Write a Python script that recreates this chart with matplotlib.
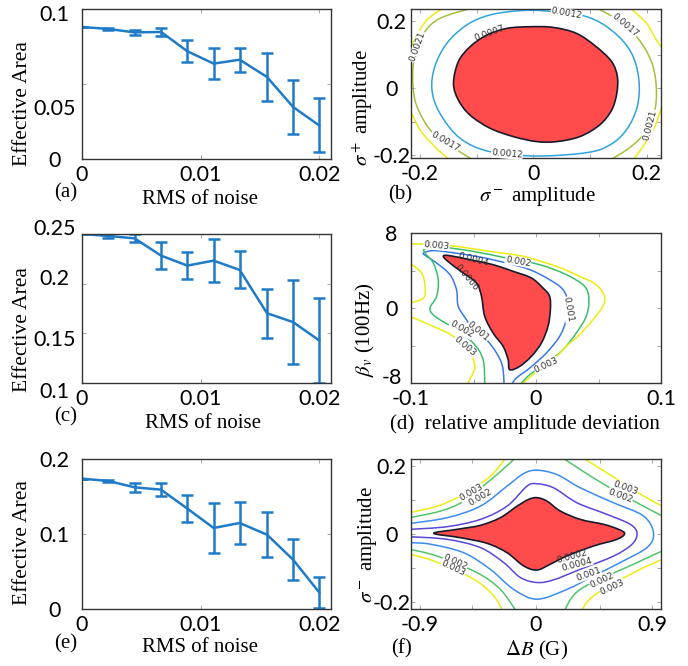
import numpy as np
import matplotlib.pyplot as plt
from matplotlib.path import Path
from matplotlib.patches import PathPatch
from matplotlib.transforms import ScaledTranslation

plt.rcParams['mathtext.fontset'] = 'stix'
W, H = 688, 666

# ---- error bar data, panels (a) (c) (e)
rms = [0, 0.00222, 0.00444, 0.00667, 0.00889, 0.0111, 0.0133, 0.0156, 0.0178, 0.02]
area_a = [0.0880, 0.0867, 0.0844, 0.0847, 0.0718, 0.0636, 0.0662, 0.0547, 0.0347, 0.0224]
err_a = [0, 0.0005, 0.0017, 0.0024, 0.0074, 0.0103, 0.0080, 0.0161, 0.0180, 0.0180]
area_c = [0.2500, 0.2480, 0.2456, 0.2282, 0.2182, 0.2232, 0.2138, 0.1703, 0.1613, 0.1429]
err_c = [0, 0.0017, 0.0040, 0.0137, 0.0140, 0.0213, 0.0186, 0.0248, 0.0424, 0.0430]
area_e = [0.1738, 0.1707, 0.1622, 0.1591, 0.1338, 0.1080, 0.1147, 0.0991, 0.0658, 0.0222]
err_e = [0, 0.0018, 0.0058, 0.0087, 0.0184, 0.0329, 0.0276, 0.0300, 0.0271, 0.0207]

# ---- contour traces, panel (b)
b_red = [(-0.141, 0.014), (-0.1325, 0.0786), (-0.112, 0.123), (-0.0825, 0.158), (-0.0473, 0.178),
         (-0.0062, 0.183), (0.0349, 0.181), (0.0761, 0.163), (0.111, 0.123), (0.138, 0.0786),
         (0.148, 0.0338), (0.147, -0.016), (0.138, -0.0657), (0.117, -0.110), (0.082, -0.145),
         (0.041, -0.160), (0.0056, -0.160), (-0.0356, -0.145), (-0.0767, -0.120), (-0.112, -0.0806),
         (-0.1325, -0.0358)]
b_blue = [(-0.179, -0.006), (-0.174, 0.064), (-0.153, 0.133), (-0.118, 0.188), (-0.077, 0.218),
          (-0.024, 0.231), (0.023, 0.230), (0.094, 0.213), (0.141, 0.168), (0.173, 0.104),
          (0.186, 0.024), (0.183, -0.056), (0.164, -0.125), (0.135, -0.170), (0.094, -0.193),
          (0.0056, -0.203), (-0.077, -0.190), (-0.1295, -0.150), (-0.165, -0.0756)]
b_olive_l = [(-0.106, 0.24), (-0.165, 0.208), (-0.194, 0.163), (-0.209, 0.104), (-0.213, 0.034),
             (-0.209, -0.036), (-0.194, -0.0955), (-0.171, -0.145), (-0.135, -0.185), (-0.106, -0.215)]
b_olive_r = [(0.111, 0.24), (0.158, 0.193), (0.191, 0.133), (0.211, 0.064), (0.217, -0.016),
             (0.211, -0.0856), (0.191, -0.145), (0.164, -0.185), (0.135, -0.215)]
b_yellow = [
    [(-0.159, 0.24), (-0.188, 0.203), (-0.207, 0.153), (-0.22, 0.104)],
    [(-0.22, -0.056), (-0.200, -0.125), (-0.171, -0.180), (-0.147, -0.215)],
    [(0.170, 0.24), (0.1995, 0.193), (0.217, 0.143), (0.23, 0.113)],
    [(0.23, -0.036), (0.214, -0.1155), (0.193, -0.175), (0.176, -0.215)],
]
b_labels = [('0.0012', 0.0585, 0.223, -10), ('0.0012', -0.047, -0.197, -5),
            ('0.0017', 0.161, 0.188, -40), ('0.0017', -0.156, -0.160, -30),
            ('0.0021', -0.205, 0.123, 70), ('0.0021', 0.205, -0.11, 75)]

# ---- contour traces, panel (d)
d_red = [(-0.0742, 5.51), (-0.0689, 5.58), (-0.0503, 5.08), (-0.0343, 4.62), (-0.0183, 3.91),
         (-0.0037, 3.2), (0.0056, 2.13), (0.0109, 1.24), (0.0115, -0.18), (0.0096, -1.96),
         (0.0043, -3.74), (-0.0037, -5.16), (-0.013, -6.22), (-0.021, -6.58), (-0.0223, -5.51),
         (-0.0263, -4.09), (-0.0343, -2.67), (-0.041, -0.89), (-0.0436, 1.24), (-0.0476, 2.66),
         (-0.0582, 3.73), (-0.0689, 4.8)]
d_blue = [(-0.0255, -8.2), (-0.0268, -6.22), (-0.0316, -4.8), (-0.0396, -3.38), (-0.0503, -2.31),
          (-0.0556, -1.25), (-0.0622, 0.18), (-0.0636, 1.96), (-0.0689, 3.56), (-0.0795, 4.8),
          (-0.0875, 5.51), (-0.090, 5.87), (-0.0822, 6.12), (-0.0689, 5.94), (-0.0449, 5.44),
          (-0.0237, 4.8), (-0.005, 4.09), (0.0109, 3.02), (0.0216, 1.96), (0.0256, 0.53),
          (0.0242, -1.25), (0.0189, -3.02), (0.0083, -4.8), (-0.005, -6.4), (-0.0157, -7.47),
          (-0.0197, -8.2)]
d_green = [(-0.041, -8.2), (-0.0423, -5.51), (-0.0503, -3.73), (-0.0662, -2.13), (-0.0808, -0.89),
           (-0.0848, 0.0), (-0.0795, 1.24), (-0.0782, 3.02), (-0.0822, 4.8), (-0.0888, 5.87),
           (-0.0888, 6.29), (-0.0769, 6.51), (-0.0503, 6.04), (-0.0237, 5.33), (0.0029, 4.62),
           (0.0242, 3.56), (0.0389, 2.31), (0.0423, 0.89), (0.0402, -0.89), (0.0322, -2.67),
           (0.0216, -4.44), (0.0083, -5.87), (-0.005, -7.11), (-0.013, -8.2)]
d_yellow = [
    [(-0.101, 6.86), (-0.0689, 6.65), (-0.037, 6.04), (-0.0104, 5.51), (0.0163, 4.44),
     (0.0349, 3.38), (0.0482, 2.49), (0.0548, 1.24), (0.0535, 0.18), (0.0455, -1.25),
     (0.0349, -2.85), (0.0242, -4.09), (0.0136, -5.51), (-0.0024, -7.11), (-0.0117, -8.2)],
    [(-0.101, 4.8), (-0.0915, 3.73), (-0.0888, 2.31), (-0.090, 1.07), (-0.101, 0.53)],
    [(-0.101, -0.89), (-0.0822, -1.96), (-0.0662, -3.02), (-0.0529, -4.8), (-0.0489, -6.22),
     (-0.0516, -7.29), (-0.0556, -8.2)],
]
d_labels = [('0.003', -0.0795, 6.68, -5), ('0.002', -0.0144, 4.98, -10),
            ('0.001', 0.0256, -0.18, -80), ('0.001', -0.0463, -2.49, -40),
            ('0.002', -0.0596, -2.31, -30), ('0.003', -0.0569, -4.09, -40),
            ('0.003', 0.0083, -6.12, 25)]
d_black_labels = [('0.0004', -0.0503, 5.16, -15), ('0.0006', -0.0556, 3.2, -50)]

# ---- contour traces, panel (f)
f_red = [(-0.794, 0.003), (-0.613, 0.0147), (-0.432, 0.0265), (-0.277, 0.049), (-0.147, 0.083),
         (-0.057, 0.103), (0.008, 0.108), (0.085, 0.098), (0.189, 0.0686), (0.344, 0.044),
         (0.525, 0.0294), (0.641, 0.0147), (0.688, 0.002), (0.628, -0.0147), (0.447, -0.0343),
         (0.24, -0.0637), (0.111, -0.088), (0.008, -0.105), (-0.096, -0.093), (-0.225, -0.054),
         (-0.38, -0.0265), (-0.587, -0.0098)]
f_purple = [(-0.98, 0.0147), (-0.690, 0.0226), (-0.432, 0.044), (-0.225, 0.083), (-0.070, 0.142),
            (0.008, 0.149), (0.137, 0.137), (0.318, 0.093), (0.551, 0.0588), (0.732, 0.0294),
            (0.784, 0.003), (0.745, -0.0294), (0.602, -0.064), (0.344, -0.103), (0.137, -0.134),
            (0.008, -0.142), (-0.122, -0.127), (-0.251, -0.083), (-0.432, -0.039), (-0.690, -0.0147),
            (-0.98, -0.007)]
f_blue = [(-0.98, 0.032), (-0.690, 0.049), (-0.432, 0.083), (-0.225, 0.142), (-0.096, 0.179),
          (0.008, 0.189), (0.163, 0.176), (0.344, 0.137), (0.602, 0.093), (0.835, 0.054),
          (0.912, 0.003), (0.861, -0.039), (0.654, -0.083), (0.447, -0.1226), (0.241, -0.162),
          (0.008, -0.191), (-0.174, -0.162), (-0.355, -0.103), (-0.562, -0.054), (-0.820, -0.029),
          (-0.98, -0.0245)]
f_green = [
    [(-0.98, 0.049), (-0.742, 0.0686), (-0.562, 0.098), (-0.303, 0.176), (-0.147, 0.23)],
    [(0.189, 0.23), (0.344, 0.191), (0.551, 0.142), (0.809, 0.088), (0.98, 0.054)],
    [(0.98, -0.049), (0.757, -0.088), (0.344, -0.162), (0.214, -0.23)],
    [(-0.98, -0.044), (-0.768, -0.064), (-0.458, -0.113), (-0.277, -0.162), (-0.147, -0.23)],
]
f_yellow = [
    [(-0.98, 0.064), (-0.768, 0.083), (-0.587, 0.113), (-0.355, 0.171), (-0.225, 0.23)],
    [(0.344, 0.23), (0.551, 0.181), (0.835, 0.113), (0.98, 0.083)],
    [(0.98, -0.0735), (0.757, -0.113), (0.447, -0.181), (0.344, -0.23)],
    [(-0.98, -0.0588), (-0.794, -0.0784), (-0.484, -0.132), (-0.329, -0.181), (-0.251, -0.23)],
]
f_labels = [('0.003', -0.504, 0.124, 30), ('0.002', -0.432, 0.110, 30),
            ('0.003', 0.693, 0.137, -20), ('0.002', 0.654, 0.113, -20),
            ('0.002', 0.512, -0.134, 25), ('0.003', 0.590, -0.155, 25),
            ('0.001', 0.408, -0.118, 20), ('0.0004', 0.318, -0.088, 15),
            ('0.002', -0.626, -0.081, -25), ('0.003', -0.64, -0.100, -25)]
f_black_labels = [('0.0002', 0.279, -0.064, 15)]

BLUE = '#1f7bc8'
RED = '#ff4b4b'
SERIF = 'Liberation Serif'
SANS = 'Lato'

fig = plt.figure(figsize=(W / 100, H / 100), dpi=100)


def make_ax(l, t, r, b):
    return fig.add_axes([l / W, 1 - b / H, (r - l) / W, (b - t) / H])


def style(ax, ypad):
    for s in ax.spines.values():
        s.set_color('#333333')
        s.set_linewidth(1.0)
    ax.tick_params(direction='in', length=3, width=0.6, color='#999999',
                   top=True, right=True, labelsize=15.5)
    ax.tick_params(axis='x', pad=4)
    ax.tick_params(axis='y', pad=ypad)
    for lab in ax.get_xticklabels() + ax.get_yticklabels():
        lab.set_fontfamily(SANS)
    for lab in ax.get_yticklabels():
        lab.set_ha('center')


def shift_ylabels(ax, offsets):
    # printed tick labels sit a few pixels off their ticks in the original
    for lab, dy in zip(ax.get_yticklabels(), offsets):
        lab.set_transform(lab.get_transform() + ScaledTranslation(0, dy / 100, fig.dpi_scale_trans))


def ftext(x, y, s, **kw):
    fig.text(x / W, 1 - y / H, s, ha='center', va='center', fontfamily=SERIF, **kw)


def smooth_path(pts, closed=False):
    # traced points joined by cubic Bezier pieces (Catmull-Rom tangents)
    p = np.array(pts, dtype=float)
    n = len(p)
    verts = [p[0]]
    codes = [Path.MOVETO]
    segs = n if closed else n - 1
    for i in range(segs):
        p0 = p[(i - 1) % n] if (closed or i > 0) else p[i]
        p1 = p[i]
        p2 = p[(i + 1) % n]
        p3 = p[(i + 2) % n] if (closed or i + 2 < n) else p2
        verts += [p1 + (p2 - p0) / 6, p2 - (p3 - p1) / 6, p2]
        codes += [Path.CURVE4] * 3
    return Path(verts, codes)


def curve(ax, pts, color, closed=False, lw=1.1):
    ax.add_patch(PathPatch(smooth_path(pts, closed), fc='none', ec=color, lw=lw))


def region(ax, pts):
    ax.add_patch(PathPatch(smooth_path(pts, True), fc=RED, ec='#1a1a2e', lw=1.2))


def clabel(ax, items, color='#333333', box=True):
    for s, x, y, r in items:
        kw = dict(bbox=dict(fc='white', ec='none', pad=0.2)) if box else {}
        ax.text(x, y, s, fontsize=6.5, rotation=r, ha='center', va='center',
                color=color, fontfamily='DejaVu Sans', **kw)


# ---------------- left column: error bars
panels = [((82, 9, 331, 159), area_a, err_a, (0, 0.1), [0, 0.05, 0.1], ['0', '0.05', '0.1']),
          ((82, 234, 331, 383), area_c, err_c, (0.1, 0.25), [0.1, 0.15, 0.2, 0.25],
           ['0.1', '0.15', '0.2', '0.25']),
          ((82, 459, 331, 609), area_e, err_e, (0, 0.2), [0, 0.1, 0.2], ['0', '0.1', '0.2'])]
left_axes = []
for box, vals, errs, ylim, yt, ytl in panels:
    ax = make_ax(*box)
    ax.errorbar(rms, vals, yerr=errs, color=BLUE, lw=1.8, elinewidth=1.8,
                capsize=4.5, capthick=1.8)
    ax.set_xlim(0, 0.021)
    ax.set_ylim(*ylim)
    ax.set_xticks([0, 0.01, 0.02], ['0', '0.01', '0.02'])
    ax.set_yticks(yt, ytl)
    style(ax, 20)
    left_axes.append(ax)

shift_ylabels(left_axes[0], [0, -23, -4])
shift_ylabels(left_axes[1], [-7, -5, 7, 7])

for yc in (104, 330, 543):
    ftext(23, yc, 'Effective Area', fontsize=15.5, rotation=90)
ftext(66, 193, '(a)', fontsize=15)
ftext(200, 199, 'RMS of noise', fontsize=15)
ftext(66, 417, '(c)', fontsize=15)
ftext(203, 424, 'RMS of noise', fontsize=15)
ftext(66, 644, '(e)', fontsize=15)
ftext(200, 648, 'RMS of noise', fontsize=15)

# ---------------- (b)
axb = make_ax(411, 9, 661, 158)
region(axb, b_red)
curve(axb, b_blue, '#2ea3e0', closed=True)
curve(axb, b_olive_l, '#a2c03a')
curve(axb, b_olive_r, '#a2c03a')
for seg in b_yellow:
    curve(axb, seg, '#ecec10')
clabel(axb, b_labels)
clabel(axb, [('0.0007', -0.077, 0.163, 20)], box=False)
axb.set_xlim(-0.216, 0.225)
axb.set_ylim(-0.209, 0.236)
axb.set_xticks([-0.2, -0.1, 0, 0.1, 0.2], ['-0.2', '', '0', '', '0.2'])
axb.set_yticks([-0.2, -0.1, 0, 0.1, 0.2], ['-0.2', '', '0', '', '0.2'])
style(axb, 14)
ftext(363, 108, r'$\sigma^+$ amplitude', fontsize=15, rotation=90)
ftext(400, 195, '(b)', fontsize=15)
ftext(537, 197, r'$\sigma^-$ amplitude', fontsize=15)

# ---------------- (d)
axd = make_ax(411, 233, 661, 383)
region(axd, d_red)
curve(axd, d_blue, '#3a78e8')
curve(axd, d_green, '#3cbf6a')
for seg in d_yellow:
    curve(axd, seg, '#ecec10')
clabel(axd, d_labels)
clabel(axd, d_black_labels, box=False)
axd.set_xlim(-0.1, 0.1)
axd.set_ylim(-8, 8)
axd.set_xticks([-0.1, -0.05, 0, 0.05, 0.1], ['-0.1', '', '0', '', '0.1'])
axd.set_yticks([-8, -4, 0, 4, 8], ['-8', '', '0', '', '8'])
style(axd, 14)
shift_ylabels(axd, [7, 0, 0, 0, 0])
ftext(365, 330, r'$\beta_v$ (100Hz)', fontsize=15, rotation=90)
ftext(525, 424, '(d)  relative amplitude deviation', fontsize=15)

# ---------------- (f)
axf = make_ax(411, 459, 661, 609)
region(axf, f_red)
curve(axf, f_purple, '#5a46d8')
curve(axf, f_blue, '#3c8cf0')
for seg in f_green:
    curve(axf, seg, '#52c46a')
for seg in f_yellow:
    curve(axf, seg, '#ecec10')
clabel(axf, f_labels)
clabel(axf, f_black_labels, box=False)
axf.set_xlim(-0.97, 0.97)
axf.set_ylim(-0.22, 0.222)
axf.set_xticks([-0.9, -0.5, 0, 0.5, 0.9], ['-0.9', '', '0', '', '0.9'])
axf.set_yticks([-0.2, -0.1, 0, 0.1, 0.2], ['-0.2', '', '0', '', '0.2'])
style(axf, 14)
ftext(368, 545, r'$\sigma^-$ amplitude', fontsize=15, rotation=90)
ftext(401, 649, '(f)', fontsize=15)
ftext(537, 650, r'$\Delta B$ (G)', fontsize=15)

fig.savefig('out.png', dpi=100)
